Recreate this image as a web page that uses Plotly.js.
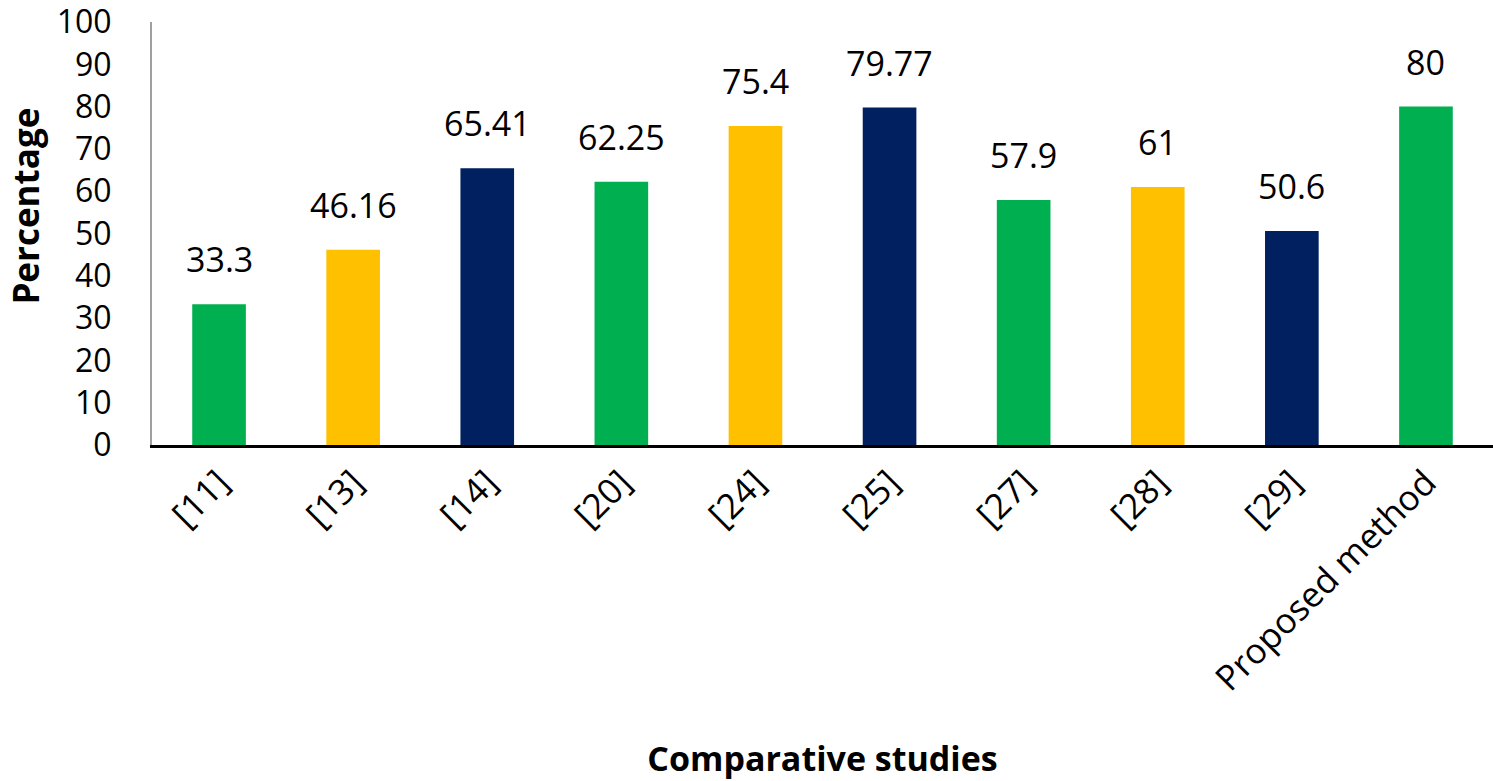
<!DOCTYPE html>
<html>
<head>
<meta charset="utf-8">
<script src="https://cdn.plot.ly/plotly-3.0.1.min.js"></script>
<style>html,body{margin:0;padding:0;background:#fff;}#chart{width:1493px;height:781px;}</style>
</head>
<body>
<div id="chart"></div>
<script>
const categories = ["[11]", "[13]", "[14]", "[20]", "[24]", "[25]", "[27]", "[28]", "[29]", "Proposed method"];
const values = [33.3, 46.16, 65.41, 62.25, 75.4, 79.77, 57.9, 61, 50.6, 80];
const valueLabels = ["33.3", "46.16", "65.41", "62.25", "75.4", "79.77", "57.9", "61", "50.6", "80"];
const barColors = ["#00B050", "#FFC000", "#002060", "#00B050", "#FFC000", "#002060", "#00B050", "#FFC000", "#002060", "#00B050"];
const yTicks = [0, 10, 20, 30, 40, 50, 60, 70, 80, 90, 100];

const FONT = "Open Sans, Noto Sans, sans-serif";

const trace = {
  type: "bar",
  x: categories,
  y: values,
  marker: {color: barColors},
  width: 0.4,
  hoverinfo: "x+y"
};

const annotations = categories.map((c, i) => ({
  x: c, y: values[i], xref: "x", yref: "y",
  text: valueLabels[i], showarrow: false,
  yanchor: "bottom", yshift: 20,
  font: {family: FONT, size: 34, color: "#000"}
}));

annotations.push({
  xref: "paper", yref: "paper", x: -0.095, y: 0.565,
  xanchor: "center", yanchor: "middle",
  text: "Percentage", textangle: -90, showarrow: false,
  font: {family: FONT, size: 35, color: "#000", weight: "bold"}
});

const layout = {
  width: 1493, height: 781,
  margin: {l: 152, r: 0, t: 22, b: 336},
  paper_bgcolor: "#fff", plot_bgcolor: "#fff",
  showlegend: false,
  bargap: 0.6,
  font: {family: FONT, color: "#000"},
  xaxis: {
    type: "category",
    tickangle: -45,
    tickfont: {family: FONT, size: 35, color: "#000"},
    showline: true, linecolor: "#000", linewidth: 3,
    ticks: "", showgrid: false, zeroline: false,
    title: {text: "Comparative studies", font: {family: FONT, size: 34, color: "#000", weight: "bold"}, standoff: 52}
  },
  yaxis: {
    range: [0, 100],
    tickvals: yTicks,
    tickfont: {family: FONT, size: 32, color: "#000"},
    showline: true, linecolor: "#a0a0a0", linewidth: 2,
    ticks: "", showgrid: false, zeroline: false,
    ticklabelstandoff: 32,
    ticklabeloverflow: "allow"
  },
  annotations: annotations
};

Plotly.newPlot("chart", [trace], layout, {displayModeBar: false, staticPlot: true});
</script>
</body>
</html>
